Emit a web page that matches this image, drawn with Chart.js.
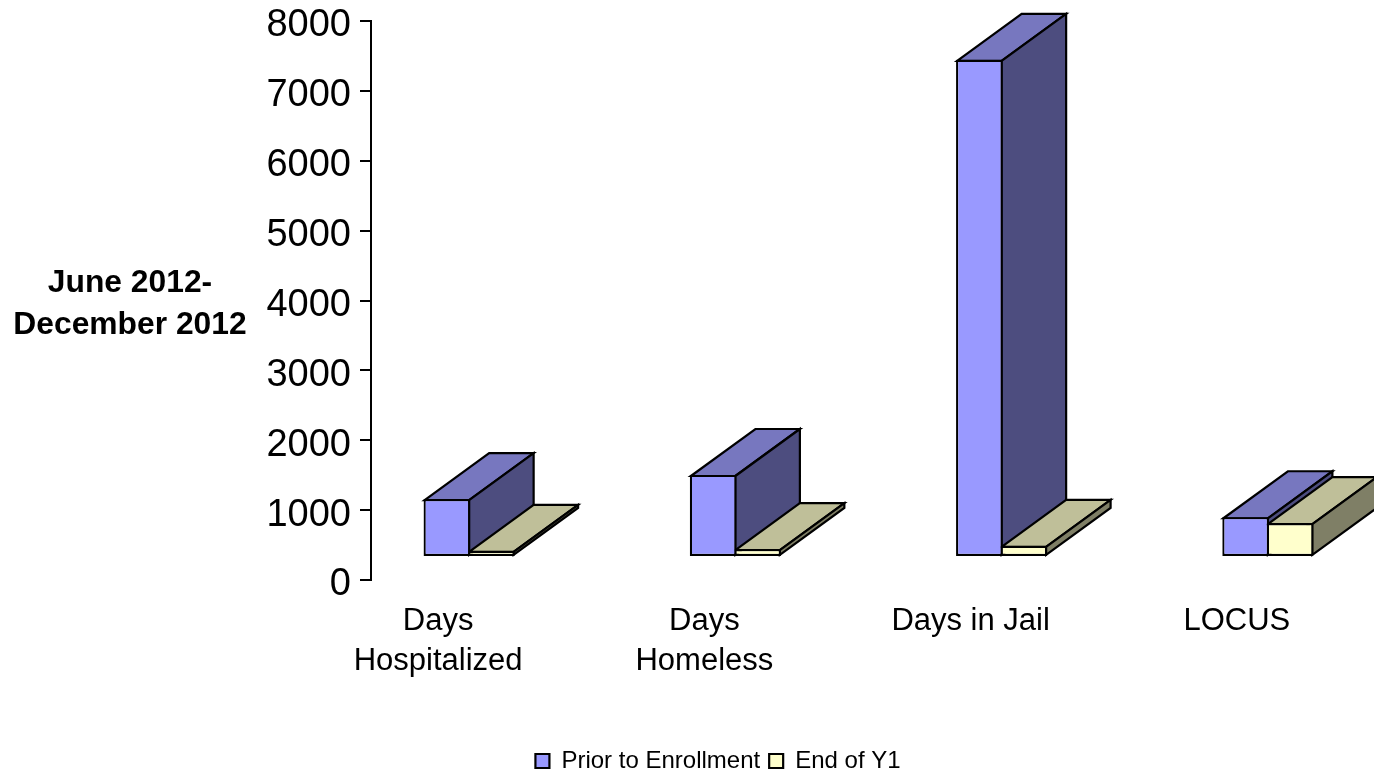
<!DOCTYPE html>
<html>
<head>
<meta charset="utf-8">
<title>June 2012-December 2012</title>
<script src="https://cdn.jsdelivr.net/npm/chart.js@4/dist/chart.umd.js"></script>
<style>
  html, body { margin: 0; padding: 0; background: #fff; overflow: hidden; width: 1374px; height: 774px; }
  canvas { display: block; }
</style>
</head>
<body>
<canvas id="outcomes" width="1436" height="774"></canvas>
<script>
const categories = [['Days', 'Hospitalized'], ['Days', 'Homeless'], 'Days in Jail', 'LOCUS'];
const priorValues = [830, 1175, 7115, 570];
const endY1Values = [90, 115, 160, 485];
const seriesNames = ['Prior to Enrollment', 'End of Y1'];
const yTicks = [0, 1000, 2000, 3000, 4000, 5000, 6000, 7000, 8000];
const sideTitle = ['June 2012-', 'December 2012'];

const FONT = '"Liberation Sans", Arial, sans-serif';

// fake 3D: bars sit in front of the axis plane, boxes recede up and to the right
const FRONT_DX = -35;
const FRONT_DY = -23;
const DEPTH_X = 64.5;
const DEPTH_Y = -47;
const EDGE = 2.2;

const faceColors = [
  { top: '#7777BF', side: '#4D4D7F' },
  { top: '#BFBF99', side: '#7F7F66' }
];

function face(ctx, pts, fill) {
  ctx.beginPath();
  pts.forEach((p, i) => i ? ctx.lineTo(p[0], p[1]) : ctx.moveTo(p[0], p[1]));
  ctx.closePath();
  ctx.fillStyle = fill;
  ctx.fill();
  ctx.stroke();
}

const boxFaces = {
  id: 'boxFaces',
  // all top and side faces go first, left series then right series
  beforeDatasetsDraw(chart) {
    const ctx = chart.ctx;
    ctx.save();
    ctx.translate(FRONT_DX, FRONT_DY);
    ctx.strokeStyle = '#000';
    ctx.lineWidth = EDGE;
    ctx.lineJoin = 'miter';
    chart.data.datasets.forEach((ds, di) => {
      chart.getDatasetMeta(di).data.forEach(bar => {
        // native borders are inset, so the faces start on the border's centre line
        const l = bar.x - bar.width / 2 + EDGE / 2;
        const r = bar.x + bar.width / 2 - EDGE / 2;
        const t = bar.y + EDGE / 2;
        const b = bar.base - EDGE / 2;
        face(ctx, [[l, t], [r, t], [r + DEPTH_X, t + DEPTH_Y], [l + DEPTH_X, t + DEPTH_Y]], faceColors[di].top);
        face(ctx, [[r, t], [r + DEPTH_X, t + DEPTH_Y], [r + DEPTH_X, b + DEPTH_Y], [r, b]], faceColors[di].side);
      });
    });
    ctx.restore();
  },
  // the front rectangles are the native bars, moved onto the front plane
  beforeDatasetDraw(chart) {
    chart.ctx.save();
    chart.ctx.translate(FRONT_DX, FRONT_DY);
  },
  afterDatasetDraw(chart) {
    chart.ctx.restore();
  },
  afterDraw(chart) {
    const ctx = chart.ctx;
    ctx.save();
    ctx.fillStyle = '#000';
    ctx.font = 'bold 31.8px ' + FONT;
    ctx.textAlign = 'center';
    ctx.textBaseline = 'middle';
    sideTitle.forEach((line, i) => ctx.fillText(line, 130, 283 + i * 42));
    ctx.restore();
  }
};

new Chart(document.getElementById('outcomes'), {
  type: 'bar',
  data: {
    labels: categories,
    datasets: [
      { label: seriesNames[0], data: priorValues, backgroundColor: '#9999FF', borderColor: '#000', borderWidth: EDGE, borderSkipped: false },
      { label: seriesNames[1], data: endY1Values, backgroundColor: '#FFFFCC', borderColor: '#000', borderWidth: EDGE, borderSkipped: false }
    ]
  },
  options: {
    responsive: false,
    animation: false,
    layout: { padding: { top: 21, left: 0, right: 0, bottom: -9 } },
    // slightly over-wide bars so neighbours share one border line
    datasets: { bar: { categoryPercentage: 0.334, barPercentage: 1.05 } },
    plugins: {
      tooltip: { enabled: false },
      legend: {
        position: 'bottom',
        labels: {
          boxWidth: 14,
          boxHeight: 14,
          padding: 9,
          color: '#000',
          font: { family: FONT, size: 24 }
        }
      }
    },
    scales: {
      x: {
        grid: { display: false },
        border: { display: false },
        afterFit(scale) { scale.height = 160; },
        ticks: {
          autoSkip: false,
          maxRotation: 0,
          labelOffset: -66,
          padding: 14,
          color: '#000',
          font: { family: FONT, size: 31, lineHeight: 1.27 }
        }
      },
      y: {
        min: 0,
        max: 8000,
        afterFit(scale) { scale.width = 371; },
        afterBuildTicks(scale) { scale.ticks = yTicks.map(value => ({ value })); },
        grid: { drawOnChartArea: false, drawTicks: true, tickLength: 11, color: '#000', lineWidth: 2 },
        border: { display: true, color: '#000', width: 2 },
        ticks: {
          padding: 9,
          labelOffset: 5,
          color: '#000',
          // tight line height keeps the top label from pushing the plot area down
          font: { family: FONT, size: 38, lineHeight: 0.6 },
          callback: value => String(value)
        }
      }
    }
  },
  plugins: [boxFaces]
});
</script>
</body>
</html>
